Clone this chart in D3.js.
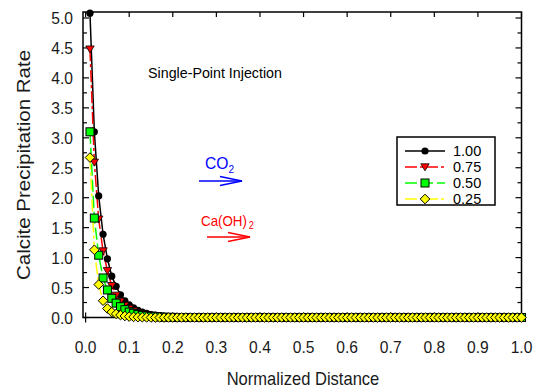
<!DOCTYPE html>
<html>
<head>
<meta charset="utf-8">
<script src="https://cdn.jsdelivr.net/npm/d3@7"></script>
<style>
  body { margin: 0; background: #fff; }
  text { font-family: "Liberation Sans", Arial, sans-serif; }
</style>
</head>
<body>
<div id="chart"></div>
<script>
// normalized distance grid (0.01 .. 1.00)
const distance = [
  0.01,0.02,0.03,0.04,0.05,0.06,0.07,0.08,0.09,0.10,
  0.11,0.12,0.13,0.14,0.15,0.16,0.17,0.18,0.19,0.20,
  0.21,0.22,0.23,0.24,0.25,0.26,0.27,0.28,0.29,0.30,
  0.31,0.32,0.33,0.34,0.35,0.36,0.37,0.38,0.39,0.40,
  0.41,0.42,0.43,0.44,0.45,0.46,0.47,0.48,0.49,0.50,
  0.51,0.52,0.53,0.54,0.55,0.56,0.57,0.58,0.59,0.60,
  0.61,0.62,0.63,0.64,0.65,0.66,0.67,0.68,0.69,0.70,
  0.71,0.72,0.73,0.74,0.75,0.76,0.77,0.78,0.79,0.80,
  0.81,0.82,0.83,0.84,0.85,0.86,0.87,0.88,0.89,0.90,
  0.91,0.92,0.93,0.94,0.95,0.96,0.97,0.98,0.99,1.00
];

const zeros80 = [
  0,0,0,0,0,0,0,0,0,0, 0,0,0,0,0,0,0,0,0,0,
  0,0,0,0,0,0,0,0,0,0, 0,0,0,0,0,0,0,0,0,0,
  0,0,0,0,0,0,0,0,0,0, 0,0,0,0,0,0,0,0,0,0,
  0,0,0,0,0,0,0,0,0,0, 0,0,0,0,0,0,0,0,0,0
];

const rate100 = [5.08,3.10,2.03,1.39,0.98,0.69,0.52,0.38,0.28,0.21,
  0.16,0.12,0.09,0.07,0.05,0.04,0.03,0.02,0.015,0.01].concat(zeros80);
const rate075 = [4.48,2.59,1.64,1.11,0.78,0.53,0.37,0.27,0.20,0.15,
  0.11,0.08,0.06,0.045,0.035,0.025,0.018,0.013,0.01,0.007].concat(zeros80);
const rate050 = [3.10,1.66,1.04,0.66,0.46,0.32,0.24,0.18,0.13,0.09,
  0.07,0.05,0.035,0.025,0.018,0.012,0.008,0.005,0.003,0.002].concat(zeros80);
const rate025 = [2.67,1.13,0.55,0.28,0.15,0.09,0.06,0.04,0.025,0.015,
  0.01,0.006,0.004,0.002,0,0,0,0,0,0].concat(zeros80);

const seriesNames = ['1.00', '0.75', '0.50', '0.25'];
const xTicks = [0,0.1,0.2,0.3,0.4,0.5,0.6,0.7,0.8,0.9,1.0];
const yTicks = [0,0.5,1.0,1.5,2.0,2.5,3.0,3.5,4.0,4.5,5.0];

const W = 537, H = 391;
const pLeft = 83, pRight = 521.5, pTop = 12, pBottom = 317.5;
const squeeze = 0.92; // the source text is a little narrow

const series = [
  {name: seriesNames[0], values: rate100, color: '#000', dash: null, shape: 'circle'},
  {name: seriesNames[1], values: rate075, color: '#ff0000', dash: '12,3,3,3', shape: 'triangle'},
  {name: seriesNames[2], values: rate050, color: '#00ff00', dash: '12,4', shape: 'square'},
  {name: seriesNames[3], values: rate025, color: '#ffff00', dash: '12,3,3,3', shape: 'diamond'}
];

const x = d3.scaleLinear().domain([-0.006, 1]).range([pLeft, pRight]);
const y = d3.scaleLinear().domain([0, 5.1]).range([pBottom, pTop]);

const svg = d3.select('#chart').append('svg')
  .attr('width', W)
  .attr('height', H);

const at = (tx, ty) => `translate(${tx},${ty}) scale(${squeeze},1)`;

// frame
svg.append('rect')
  .attr('x', pLeft).attr('y', pTop)
  .attr('width', pRight - pLeft).attr('height', pBottom - pTop)
  .attr('fill', 'none').attr('stroke', '#000').attr('stroke-width', 1.5);

// ticks, all pointing in
const yMinor = d3.range(0, 5.01, 0.25);
const isMajor = d => Math.abs(d * 2 - Math.round(d * 2)) < 1e-6;
svg.append('g').selectAll('line')
  .data(yMinor).enter().append('line')
  .attr('x1', pLeft).attr('x2', d => pLeft + (isMajor(d) ? 6 : 4))
  .attr('y1', d => y(d)).attr('y2', d => y(d))
  .attr('stroke', '#000').attr('stroke-width', 1.2);
svg.append('g').selectAll('line')
  .data(yMinor).enter().append('line')
  .attr('x1', pRight).attr('x2', d => pRight - (isMajor(d) ? 6 : 4))
  .attr('y1', d => y(d)).attr('y2', d => y(d))
  .attr('stroke', '#000').attr('stroke-width', 1.2);
svg.append('g').selectAll('line')
  .data(xTicks).enter().append('line')
  .attr('x1', d => x(d)).attr('x2', d => x(d))
  .attr('y1', pTop).attr('y2', pTop + 5)
  .attr('stroke', '#000').attr('stroke-width', 1.2);
svg.append('g').selectAll('line')
  .data(xTicks).enter().append('line')
  .attr('x1', d => x(d)).attr('x2', d => x(d))
  .attr('y1', pBottom).attr('y2', pBottom - 5)
  .attr('stroke', '#000').attr('stroke-width', 1.2);
svg.append('line')
  .attr('x1', x(0)).attr('x2', x(0))
  .attr('y1', pBottom).attr('y2', pBottom + 5)
  .attr('stroke', '#000').attr('stroke-width', 1.2);

// tick labels
svg.append('g').selectAll('text')
  .data(yTicks).enter().append('text')
  .attr('transform', d => at(pLeft - 10, y(d)))
  .attr('text-anchor', 'end').attr('dominant-baseline', 'central')
  .style('font-size', '17px').attr('fill', '#1a1a1a')
  .text(d => d.toFixed(1));
svg.append('g').selectAll('text')
  .data(xTicks).enter().append('text')
  .attr('transform', d => at(x(d), 353))
  .attr('text-anchor', 'middle')
  .style('font-size', '17px').attr('fill', '#1a1a1a')
  .text(d => d.toFixed(1));

// axis titles
svg.append('text')
  .attr('transform', at(303, 385))
  .attr('text-anchor', 'middle')
  .style('font-size', '18px').attr('fill', '#1a1a1a')
  .text('Normalized Distance');
svg.append('text')
  .attr('transform', `translate(30,165) rotate(-90) scale(1,${squeeze})`)
  .attr('text-anchor', 'middle')
  .style('font-size', '20.5px').attr('fill', '#1a1a1a')
  .text('Calcite Precipitation Rate');

// lines
const line = d3.line()
  .x((d, i) => x(distance[i]))
  .y(d => y(d));

const plot = svg.append('g');
series.forEach(s => {
  plot.append('path')
    .attr('d', line(s.values))
    .attr('fill', 'none')
    .attr('stroke', s.color)
    .attr('stroke-width', 1.5)
    .attr('stroke-dasharray', s.dash);
});

function drawMarker(g, shape, cx, cy) {
  if (shape == 'circle') {
    g.append('circle').attr('cx', cx).attr('cy', cy).attr('r', 3.6)
      .attr('fill', '#000');
  } else if (shape == 'triangle') {
    g.append('path')
      .attr('d', `M${cx - 4.2},${cy - 3.2}L${cx + 4.2},${cy - 3.2}L${cx},${cy + 3.8}Z`)
      .attr('fill', '#ff0000').attr('stroke', '#000').attr('stroke-width', 0.8);
  } else if (shape == 'square') {
    g.append('rect').attr('x', cx - 4).attr('y', cy - 4)
      .attr('width', 8).attr('height', 8)
      .attr('fill', '#00ff00').attr('stroke', '#000').attr('stroke-width', 1);
  } else {
    g.append('path')
      .attr('d', `M${cx},${cy - 4.8}L${cx + 4.8},${cy}L${cx},${cy + 4.8}L${cx - 4.8},${cy}Z`)
      .attr('fill', '#ffff00').attr('stroke', '#000').attr('stroke-width', 1);
  }
}

series.forEach(s => {
  const g = plot.append('g');
  s.values.forEach((v, i) => drawMarker(g, s.shape, x(distance[i]), y(v)));
});

// annotation
svg.append('text')
  .attr('transform', at(215, 78))
  .attr('text-anchor', 'middle')
  .style('font-size', '15.5px').attr('fill', '#000')
  .text('Single-Point Injection');

const co2 = svg.append('text')
  .attr('transform', at(205, 169))
  .style('font-size', '17px').attr('fill', '#0000ff');
co2.append('tspan').text('CO');
co2.append('tspan').attr('dy', 4).style('font-size', '11px').text('2');

const caoh = svg.append('text')
  .attr('transform', at(201, 226))
  .style('font-size', '14.5px').attr('fill', '#ff0000');
caoh.append('tspan').text('Ca(OH)');
caoh.append('tspan').attr('dy', 3).attr('dx', 2).style('font-size', '10px').text('2');

function arrow(x1, x2, yy, color) {
  svg.append('line').attr('x1', x1).attr('x2', x2).attr('y1', yy).attr('y2', yy)
    .attr('stroke', color).attr('stroke-width', 1.5);
  svg.append('path')
    .attr('d', `M${x2 - 22},${yy - 4.5}L${x2},${yy}L${x2 - 22},${yy + 4.5}`)
    .attr('fill', 'none').attr('stroke', color).attr('stroke-width', 1.3);
}
arrow(199, 242, 181, '#0000ff');
arrow(207, 250, 237, '#ff0000');

// legend
const lg = svg.append('g');
lg.append('rect')
  .attr('x', 397).attr('y', 137).attr('width', 98).attr('height', 68)
  .attr('fill', '#fff').attr('stroke', '#000').attr('stroke-width', 1.5);
series.forEach((s, i) => {
  const yy = 151 + i * 16;
  lg.append('line').attr('x1', 405).attr('x2', 445).attr('y1', yy).attr('y2', yy)
    .attr('stroke', s.color).attr('stroke-width', 1.5)
    .attr('stroke-dasharray', s.dash);
  drawMarker(lg, s.shape, 425, yy);
  lg.append('text').attr('x', 453).attr('y', yy)
    .attr('dominant-baseline', 'central')
    .style('font-size', '14.5px').attr('fill', '#000')
    .text(s.name);
});
</script>
</body>
</html>
